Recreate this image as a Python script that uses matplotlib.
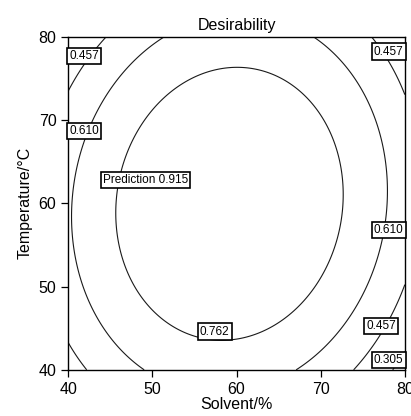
import numpy as np
import matplotlib.pyplot as plt

plt.rcParams['font.family'] = ['Liberation Sans', 'DejaVu Sans']

# Factor ranges
solvent_range = [40, 80]        # Solvent/%
temperature_range = [40, 80]    # Temperature/°C

# Quadratic model of desirability in coded factors (A = solvent, B = temperature)
b0, bA, bB, bAB, bAA, bBB = 0.925, -0.030, 0.000, 0.040, -0.360, -0.245

contour_levels = [0.305, 0.457, 0.610, 0.762]
prediction = 0.915

# Grid
x = np.linspace(solvent_range[0], solvent_range[1], 201)
y = np.linspace(temperature_range[0], temperature_range[1], 201)
X, Y = np.meshgrid(x, y)
A = (X - 60) / 20
B = (Y - 60) / 20
D = b0 + bA * A + bB * B + bAB * A * B + bAA * A ** 2 + bBB * B ** 2

fig = plt.figure(figsize=(4.11, 4.16), dpi=100)
ax = fig.add_axes([0.166, 0.111, 0.819, 0.801])

ax.contour(X, Y, D, levels=contour_levels, colors='#1a1a1a', linewidths=0.8)

# Contour labels (boxed, horizontal)
box = dict(facecolor='white', edgecolor='black', linewidth=1.2, pad=1.5)
lbl = [
    ('0.457', 40.15, 77.7, 'left'),
    ('0.457', 79.85, 78.2, 'right'),
    ('0.610', 40.15, 68.7, 'left'),
    ('0.610', 79.85, 56.8, 'right'),
    ('0.762', 57.4, 44.6, 'center'),
    ('0.457', 77.2, 45.3, 'center'),
    ('0.305', 79.85, 41.2, 'right'),
]
for txt, tx, ty, ha in lbl:
    ax.text(tx, ty, txt, ha=ha, va='center', fontsize=8.5, bbox=box, zorder=5)

ax.text(49.2, 62.8, 'Prediction %.3f' % prediction, ha='center', va='center',
        fontsize=8.5, bbox=box, zorder=5)

ax.set_xlim(solvent_range)
ax.set_ylim(temperature_range)
ax.set_xticks([40, 50, 60, 70, 80])
ax.set_yticks([40, 50, 60, 70, 80])
ax.tick_params(direction='out', length=5, width=0.9, labelsize=11.5)
for s in ax.spines.values():
    s.set_linewidth(1.0)

ax.set_xlabel('Solvent/%', fontsize=11.5, labelpad=0)
ax.set_ylabel('Temperature/°C', fontsize=11.5, labelpad=4)
ax.set_title('Desirability', fontsize=11.5, pad=5)

fig.savefig('out.png', dpi=100)
